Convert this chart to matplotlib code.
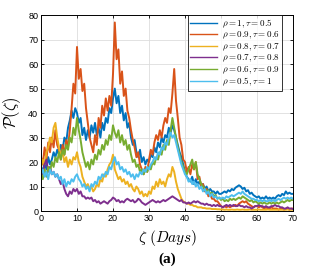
import numpy as np
import matplotlib
matplotlib.use('Agg')
from matplotlib import pyplot as plt

plt.rcParams['mathtext.fontset'] = 'cm'
plt.rcParams['font.family'] = 'Liberation Sans'

# sampling grid, every half day
days = np.arange(0, 70.5, 0.5)

# rho=1, tau=0.5
blue = [18, 16, 20, 17, 22, 19, 21, 24, 22, 25,
        23, 27, 25, 30, 28, 34, 37, 41, 38, 42,
        40, 36, 38, 31, 34, 29, 33, 30, 35, 32,
        36, 31, 34, 30, 36, 33, 38, 36, 42, 40,
        46, 50, 44, 47, 40, 43, 37, 40, 34, 36,
        30, 27, 29, 24, 22, 25, 20, 22, 19, 21,
        20, 23, 22, 26, 24, 28, 26, 30, 28, 31,
        30, 34, 32, 35, 33, 30, 27, 24, 22, 19,
        16, 14, 13, 12, 14, 11, 13, 11, 12, 10,
        11, 9, 10, 8, 9, 8, 8, 7, 8, 7,
        7, 7.5, 8, 7.5, 8.5, 8, 9, 8.5, 9.5, 10,
        10.5, 10, 9, 9.5, 8, 8.5, 7, 7.5, 6.5, 6,
        5.5, 6, 5, 5.5, 5, 6, 5, 5.5, 5, 5.5,
        5, 6, 6.5, 6, 7, 6.5, 8, 7, 7.5, 7,
        7]
# rho=0.9, tau=0.6
red = [22, 19, 26, 21, 28, 24, 30, 26, 33, 27,
       25, 21, 27, 23, 29, 26, 33, 42, 52, 48,
       67, 54, 58, 49, 52, 42, 36, 30, 27, 24,
       31, 27, 38, 34, 43, 39, 46, 41, 47, 43,
       56, 77, 62, 66, 52, 57, 47, 50, 41, 38,
       33, 29, 26, 22, 24, 19, 17, 15, 18, 16,
       21, 25, 23, 28, 31, 29, 33, 30, 35, 38,
       36, 42, 40, 48, 58, 45, 38, 30, 27, 21,
       20, 16, 18, 15, 19, 17, 20, 13, 14, 10,
       11, 8, 9, 6, 7, 5, 5, 4, 4, 3,
       2, 1.5, 2, 1.5, 2, 1.5, 2, 2, 2.5, 2,
       3, 3.5, 4, 3.5, 4, 3, 2.5, 2, 1.5, 2,
       2, 1.5, 2, 1.5, 1, 1.5, 1, 1, 1.5, 1,
       1, 1, 0.5, 1, 1, 0.5, 1, 1, 0.5, 1,
       1]
# rho=0.8, tau=0.7
yellow = [18, 21, 19, 24, 26, 30, 28, 34, 36, 30,
          26, 22, 24, 20, 22, 18, 21, 19, 22, 21,
          24, 20, 18, 14, 12, 10, 11, 9, 10, 8,
          9, 11, 10, 13, 12, 15, 14, 17, 19, 20,
          23, 17, 15, 13, 14, 12, 13, 11, 12, 10,
          11, 9, 8, 10, 9, 7, 8, 6, 7, 6,
          8, 7, 10, 9, 12, 10, 13, 11, 12, 10,
          13, 15, 14, 18, 16, 12, 9, 7, 5, 4,
          3.5, 3, 3, 2.5, 2.5, 2, 2, 1.5, 1.5, 1.5,
          1.2, 1.2, 1, 1, 1, 0.8, 0.8, 0.8, 0.7, 0.7,
          0.6, 0.6, 0.5, 0.6, 0.5, 0.5, 0.6, 0.5, 0.5, 0.6,
          0.5, 0.5, 0.6, 0.5, 0.5, 0.5, 0.6, 0.5, 0.5, 0.5,
          0.5, 0.6, 0.5, 0.5, 0.5, 0.5, 0.6, 0.5, 0.5, 0.5,
          0.5, 0.5, 0.6, 0.5, 0.5, 0.5, 0.5, 0.6, 0.5, 0.5,
          0.5]
# rho=0.7, tau=0.8
purple = [17, 15, 19, 21, 16, 18, 15, 16, 14, 15,
          13, 11, 12, 9, 7, 6, 8, 7, 9, 8,
          9, 7, 8, 6, 6, 5, 5.5, 5, 5.5, 4,
          4.5, 3.5, 4, 3, 3.5, 4, 3.5, 3, 4, 4.5,
          5.5, 5, 4, 4.5, 3.5, 4, 3.5, 4.5, 5, 4.5,
          4, 4.5, 3.5, 4, 5, 4.5, 3.5, 3, 2.5, 3,
          3.5, 4, 4.5, 4, 3.5, 4, 3.5, 4, 4.5, 4,
          4.5, 5, 5.5, 6, 5.5, 5, 4.5, 4, 4.5, 3.5,
          3.5, 3, 3.5, 3, 3.5, 4, 3.5, 4, 3.5, 3,
          3, 2.5, 3, 2.5, 2.5, 2, 2.5, 2, 2.5, 2,
          2, 1.5, 2, 2.5, 2, 2.5, 2, 2.5, 2, 2,
          2.5, 2, 2, 1.5, 2, 1.5, 1.5, 1, 1.5, 2,
          2, 2.5, 2, 2, 1.5, 2, 1.5, 1.5, 2, 2,
          2.5, 2, 2, 1.5, 1.5, 1, 1, 1.5, 1, 1,
          0.8]
# rho=0.6, tau=0.9
green = [15, 13, 17, 14, 18, 16, 20, 18, 22, 20,
         24, 21, 25, 23, 27, 25, 30, 28, 34, 31,
         38, 33, 29, 24, 21, 18, 20, 17, 21, 19,
         23, 21, 25, 23, 27, 25, 29, 27, 31, 29,
         35, 32, 30, 33, 28, 31, 27, 29, 25, 27,
         23, 20, 21, 18, 19, 16, 17, 15, 17, 16,
         18, 17, 20, 19, 22, 21, 24, 23, 27, 25,
         29, 27, 33, 38, 34, 30, 26, 23, 20, 18,
         16, 15, 17, 19, 21, 17, 20, 15, 13, 11,
         10, 9, 8, 8.5, 7, 7.5, 6, 6.5, 5, 5.5,
         4.5, 5, 4, 4.5, 4, 5, 4.5, 5, 4.5, 5,
         5.5, 5, 6, 5.5, 5, 4.5, 4, 4.5, 3.5, 4,
         3.5, 3, 3.5, 3, 3.5, 3, 3, 3.5, 3, 3.5,
         3, 3.5, 3, 3.5, 4, 3.5, 4, 4.5, 4, 4.5,
         4.5]
# rho=0.5, tau=1
cyan = [15, 17, 14, 16, 13, 17, 15, 16, 14, 15,
        13, 14, 11, 13, 10, 12, 11, 13, 12, 14,
        15, 13, 12, 10, 11, 9, 10, 8, 11, 10,
        12, 11, 14, 13, 15, 14, 16, 15, 18, 17,
        20, 22, 19, 20, 17, 18, 16, 17, 15, 16,
        14, 15, 13, 15, 14, 16, 15, 17, 16, 18,
        17, 19, 20, 22, 21, 24, 23, 26, 25, 28,
        27, 30, 32, 30, 31, 28, 25, 22, 19, 17,
        15, 14, 12, 13, 11, 12, 10, 11, 9, 10,
        8, 9, 7, 8, 6, 7, 5.5, 6, 5, 5.5,
        5, 5.5, 5, 6, 5.5, 6, 6.5, 6, 6.5, 7,
        7.5, 7, 8, 7, 6.5, 6, 5.5, 5, 5, 4.5,
        4.5, 4, 4.5, 4, 4.5, 4, 4, 4.5, 4, 4.5,
        4, 4.5, 5, 4.5, 5, 5.5, 5, 5.5, 5, 5.5,
        5]

series = [blue, red, yellow, purple, green, cyan]
labels = [r'$\rho = 1, \tau = 0.5$', r'$\rho = 0.9, \tau = 0.6$',
          r'$\rho = 0.8, \tau = 0.7$', r'$\rho = 0.7, \tau = 0.8$',
          r'$\rho = 0.6, \tau = 0.9$', r'$\rho = 0.5, \tau = 1$']
colors = ['#0072BD', '#D95319', '#EDB120', '#7E2F8E', '#77AC30', '#4DBEEE']

fig = plt.figure(figsize=(3.14, 2.75), dpi=100)
ax = fig.add_axes([0.1306, 0.2327, 0.8025, 0.7123])

for s, lab, c in zip(series, labels, colors):
  ax.plot(days, s, color=c, lw=1.4, label=lab)

ax.set_xlim(0, 70)
ax.set_ylim(0, 80)
ax.set_xticks(range(0, 71, 10))
ax.set_yticks(range(0, 81, 10))
ax.grid(True, color='#dddddd', lw=0.6)
ax.set_axisbelow(True)
ax.tick_params(direction='in', length=2.5, width=0.6, labelsize=6.5, pad=2,
               top=True, right=True)
for sp in ax.spines.values():
  sp.set_linewidth(0.7)

ax.set_ylabel(r'$\mathcal{P}(\zeta)$', fontsize=12, labelpad=4)
ax.set_xlabel(r'$\zeta\ (Days)$', fontsize=11, labelpad=4)

leg = ax.legend(loc='upper right', bbox_to_anchor=(0.956, 1.0), borderaxespad=0,
                fontsize=6.5, frameon=True, fancybox=False, handlelength=3.0,
                labelspacing=0.0, borderpad=0.25, handletextpad=0.5)
leg.get_frame().set_edgecolor('black')
leg.get_frame().set_linewidth(0.7)
for h in leg.get_lines():
  h.set_linewidth(1.0)

fig.text(0.533, 0.045, '(a)', ha='center', fontsize=11, fontweight='bold',
         family='Liberation Serif')

fig.savefig('out.png', dpi=100)
